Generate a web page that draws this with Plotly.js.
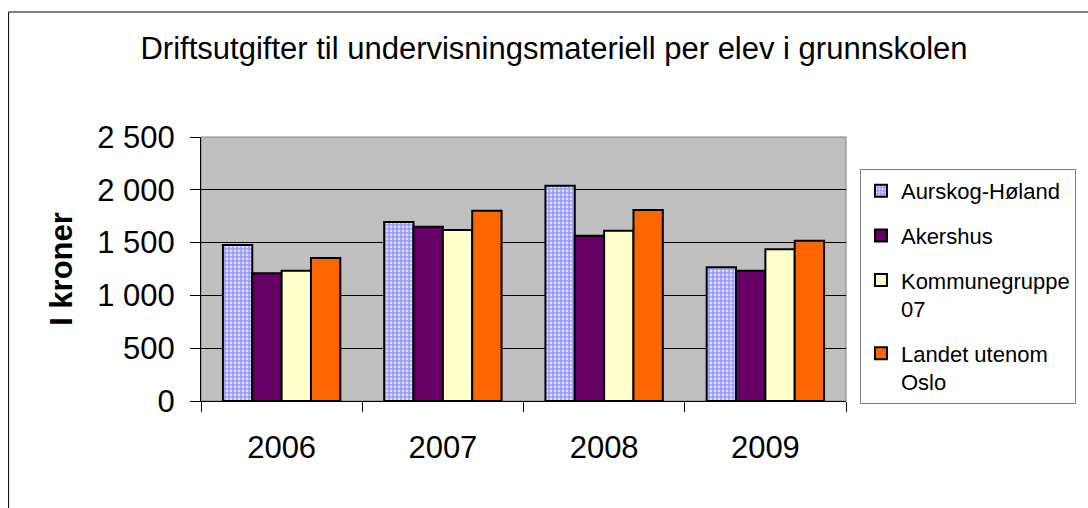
<!DOCTYPE html>
<html>
<head>
<meta charset="utf-8">
<script src="https://cdn.plot.ly/plotly-3.0.1.min.js"></script>
<style>
  html, body { margin: 0; padding: 0; background: #ffffff; }
  #chart { width: 1088px; height: 508px; }
</style>
</head>
<body>
<div id="chart"></div>
<script>
const years = ["2006", "2007", "2008", "2009"];
const seriesNames = ["Aurskog-Høland", "Akershus", "Kommunegruppe<br>07", "Landet utenom<br>Oslo"];
const aurskogHoland = [1477, 1695, 2039, 1266];
const akershus = [1209, 1651, 1566, 1234];
const kommunegruppe07 = [1234, 1619, 1613, 1437];
const landetUtenomOslo = [1354, 1802, 1809, 1518];
const yTickVals = [0, 500, 1000, 1500, 2000, 2500];

const font = "Liberation Sans, Arial, Helvetica, sans-serif";
const outline = { color: "#000000", width: 2 };

const traces = [
  {
    type: "bar", x: years, y: aurskogHoland, name: seriesNames[0], legendgroup: "a",
    marker: { color: "#9999FF", line: outline,
      pattern: { shape: ".", fgcolor: "#DDDDFF", bgcolor: "#9999FF", size: 4, solidity: 0.4 } }
  },
  { type: "bar", x: years, y: akershus, name: seriesNames[1], legendgroup: "b",
    marker: { color: "#660066", line: outline } },
  { type: "bar", x: years, y: kommunegruppe07, name: seriesNames[2], legendgroup: "c",
    marker: { color: "#FFFFCC", line: outline } },
  { type: "bar", x: years, y: landetUtenomOslo, name: seriesNames[3], legendgroup: "d",
    marker: { color: "#FF6600", line: outline } }
];

const L = 201, R = 848, T = 137, B = 401;
const W = 1088, H = 508;
const pw = R - L, ph = B - T;
const px = v => (v - L) / pw;
const py = v => (B - v) / ph;

const layout = {
  width: W, height: H,
  margin: { l: L, r: W - R, t: T, b: H - B, pad: 0 },
  paper_bgcolor: "#ffffff",
  plot_bgcolor: "#C0C0C0",
  separators: ", ",
  font: { family: font, color: "#000000" },
  title: {
    text: "Driftsutgifter til undervisningsmateriell per elev i grunnskolen",
    font: { family: font, size: 31, color: "#000000" },
    x: 554 / W, xanchor: "center", xref: "container",
    y: 1 - 48 / H, yanchor: "middle", yref: "container"
  },
  barmode: "group",
  bargap: 0.272,
  bargroupgap: 0,
  showlegend: true,
  legend: {
    x: px(862), y: py(169), xanchor: "left", yanchor: "top",
    bgcolor: "#ffffff", bordercolor: "#808080", borderwidth: 1,
    font: { family: font, size: 22, color: "#000000" },
    tracegroupgap: 13, valign: "top", traceorder: "grouped"
  },
  xaxis: {
    type: "category",
    tickfont: { family: font, size: 31, color: "#000000" },
    ticks: "outside", ticklen: 10, tickcolor: "#000000", tickwidth: 1,
    tickson: "boundaries",
    showline: true, linecolor: "#000000", linewidth: 1,
    showgrid: false, ticklabelstandoff: 19, automargin: false
  },
  yaxis: {
    range: [0, 2500], tickvals: yTickVals, separatethousands: true,
    tickfont: { family: font, size: 31, color: "#000000" },
    ticks: "outside", ticklen: 10, tickcolor: "#000000", tickwidth: 1,
    showline: true, linecolor: "#000000", linewidth: 1,
    showgrid: true, gridcolor: "#000000", gridwidth: 1,
    zeroline: false, ticklabelstandoff: 9, automargin: false,
    title: { text: "<b>I kroner</b>", font: { family: font, size: 31, color: "#000000" }, standoff: 15 }
  },
  shapes: [
    { type: "rect", xref: "paper", yref: "paper", x0: 0, x1: 1, y0: 0, y1: 1,
      line: { color: "#808080", width: 1 }, layer: "between" },
    { type: "rect", xref: "paper", yref: "paper",
      x0: px(8), x1: px(1120), y0: py(540), y1: py(12),
      line: { color: "#000000", width: 1 }, fillcolor: "rgba(0,0,0,0)", layer: "above" }
  ]
};

Plotly.newPlot("chart", traces, layout, { displayModeBar: false, staticPlot: true });
</script>
</body>
</html>
